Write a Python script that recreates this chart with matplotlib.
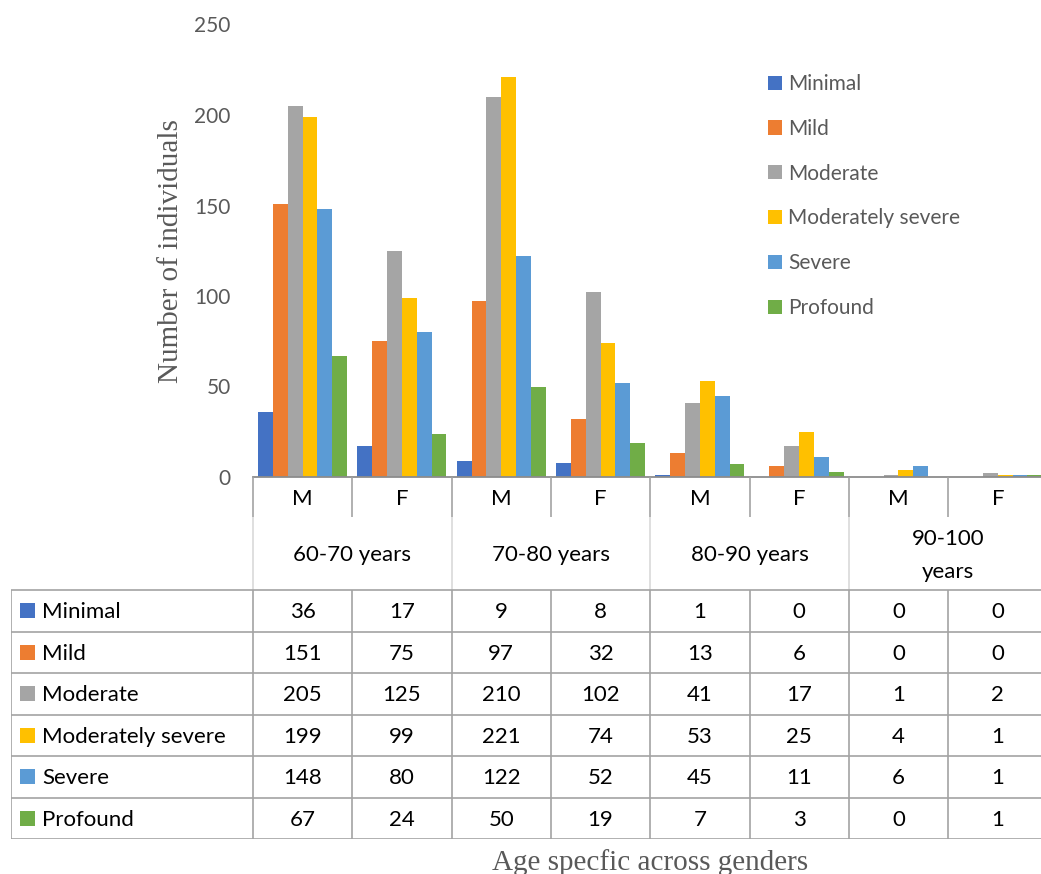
import matplotlib
matplotlib.use("Agg")
import matplotlib.pyplot as plt
from matplotlib.patches import Rectangle

# ---- data -------------------------------------------------------------
severity = ["Minimal", "Mild", "Moderate", "Moderately severe", "Severe", "Profound"]
colors = ["#4472C4", "#ED7D31", "#A5A5A5", "#FFC000", "#5B9BD5", "#70AD47"]
age_groups = ["60-70 years", "70-80 years", "80-90 years", "90-100\nyears"]
genders = ["M", "F"]

minimal = [36, 17, 9, 8, 1, 0, 0, 0]
mild = [151, 75, 97, 32, 13, 6, 0, 0]
moderate = [205, 125, 210, 102, 41, 17, 1, 2]
mod_severe = [199, 99, 221, 74, 53, 25, 4, 1]
severe = [148, 80, 122, 52, 45, 11, 6, 1]
profound = [67, 24, 50, 19, 7, 3, 0, 1]
series = [minimal, mild, moderate, mod_severe, severe, profound]

y_ticks = [0, 50, 100, 150, 200, 250]
y_label = "Number of individuals"
x_label = "Age specfic across genders"

# ---- styling ------------------------------------------------------------
SANS = ["Lato", "DejaVu Sans"]
SERIF = ["Liberation Serif", "DejaVu Serif"]
GRAY_TXT = "#595959"
GRID = "#a3a3a3"
GRID_LIGHT = "#d9d9d9"

W, H = 1041, 874
fig = plt.figure(figsize=(W / 100, H / 100), dpi=100)
fig.patch.set_facecolor("white")


def fx(px):
    return px / W


def fy(py):
    return (H - py) / H


n_cols = len(genders) * len(age_groups)
col_px = 99.3
plot_left, plot_base, plot_top = 253, 477, 24.5

# ---- bar chart ----------------------------------------------------------
ax = fig.add_axes([fx(plot_left), fy(plot_base), n_cols * col_px / W,
                   (plot_base - plot_top) / H])
n_ser = len(series)
bar_w = 0.896 / n_ser
handles = []
for i, (vals, col) in enumerate(zip(series, colors)):
    xs = [c + 0.5 + (i - (n_ser - 1) / 2) * bar_w for c in range(n_cols)]
    h = ax.bar(xs, vals, width=bar_w, color=col, linewidth=0)
    handles.append(h)

ax.set_xlim(0, n_cols)
ax.set_ylim(0, y_ticks[-1])
ax.set_yticks(y_ticks)
ax.set_xticks([])
for s in ["left", "right", "top"]:
    ax.spines[s].set_visible(False)
ax.spines["bottom"].set_color("#8c8c8c")
ax.spines["bottom"].set_linewidth(1.3)
ax.tick_params(axis="y", length=0, pad=16, labelsize=15, labelcolor=GRAY_TXT)
for lab in ax.get_yticklabels():
    lab.set_fontfamily(SANS)

ax.text(-0.103, 0.5, y_label, transform=ax.transAxes, rotation=90,
        ha="center", va="center", fontsize=21, color=GRAY_TXT, family=SERIF)

leg = ax.legend(handles, severity, loc="upper left",
                bbox_to_anchor=(fx(768), fy(74)), bbox_transform=fig.transFigure,
                frameon=False, prop={"family": SANS, "size": 15},
                labelcolor=GRAY_TXT, handlelength=0.67, handleheight=0.67,
                handletextpad=0.3, labelspacing=1.19, borderpad=0,
                borderaxespad=0)

# ---- data table ---------------------------------------------------------
h1 = 40 / 41.5          # gender header row
h2 = 73 / 41.5          # age group header row
n_rows = len(series)
total = h1 + h2 + n_rows
tab_left, tab_bottom = 11, 839
tax = fig.add_axes([fx(tab_left), fy(tab_bottom),
                    (plot_left + n_cols * col_px - tab_left) / W,
                    (tab_bottom - plot_base) / H])
x_min = -(plot_left - tab_left) / col_px
tax.set_xlim(x_min, n_cols)
tax.set_ylim(total, 0)
tax.axis("off")

lw = 1.2
# gender header
for c in range(n_cols + 1):
    tax.plot([c, c], [0, h1], color=GRID, lw=lw, solid_capstyle="butt")
for c in range(n_cols):
    tax.text(c + 0.5, 0.675, genders[c % 2], ha="center", va="baseline",
             fontsize=16, color="black", family=SANS)
# age group header
for g in range(len(age_groups) + 1):
    tax.plot([2 * g, 2 * g], [h1, h1 + h2], color=GRID_LIGHT, lw=lw,
             solid_capstyle="butt")
for g, name in enumerate(age_groups):
    lines = name.split("\n")
    if len(lines) == 1:
        tax.text(2 * g + 1, h1 + 1.06, name, ha="center", va="baseline",
                 fontsize=16, color="black", family=SANS)
    else:
        for k, ln in enumerate(lines):
            tax.text(2 * g + 1, h1 + 0.68 + k * 0.78, ln, ha="center",
                     va="baseline", fontsize=16, color="black", family=SANS)

# data rows
top = h1 + h2
for r in range(n_rows + 1):
    tax.plot([x_min, n_cols], [top + r, top + r], color=GRID, lw=lw,
             solid_capstyle="butt")
for xv in [x_min] + list(range(n_cols + 1)):
    tax.plot([xv, xv], [top, top + n_rows], color=GRID, lw=lw,
             solid_capstyle="butt")

sq_w = 15 / col_px
sq_h = 15 / 41.5
for r, (name, vals, col) in enumerate(zip(severity, series, colors)):
    y0 = top + r
    tax.add_patch(Rectangle((x_min + 9 / col_px, y0 + 0.5 - sq_h / 2),
                            sq_w, sq_h, facecolor=col, edgecolor="none"))
    tax.text(x_min + 31 / col_px, y0 + 0.675, name, ha="left", va="baseline",
             fontsize=16, color="black", family=SANS)
    for c, v in enumerate(vals):
        tax.text(c + 0.5, y0 + 0.675, str(v), ha="center", va="baseline",
                 fontsize=16, color="black", family=SANS)

fig.text(fx(650), fy(869.5), x_label, ha="center", va="baseline",
         fontsize=21, color=GRAY_TXT, family=SERIF)

fig.savefig("out.png", dpi=100, facecolor="white")
